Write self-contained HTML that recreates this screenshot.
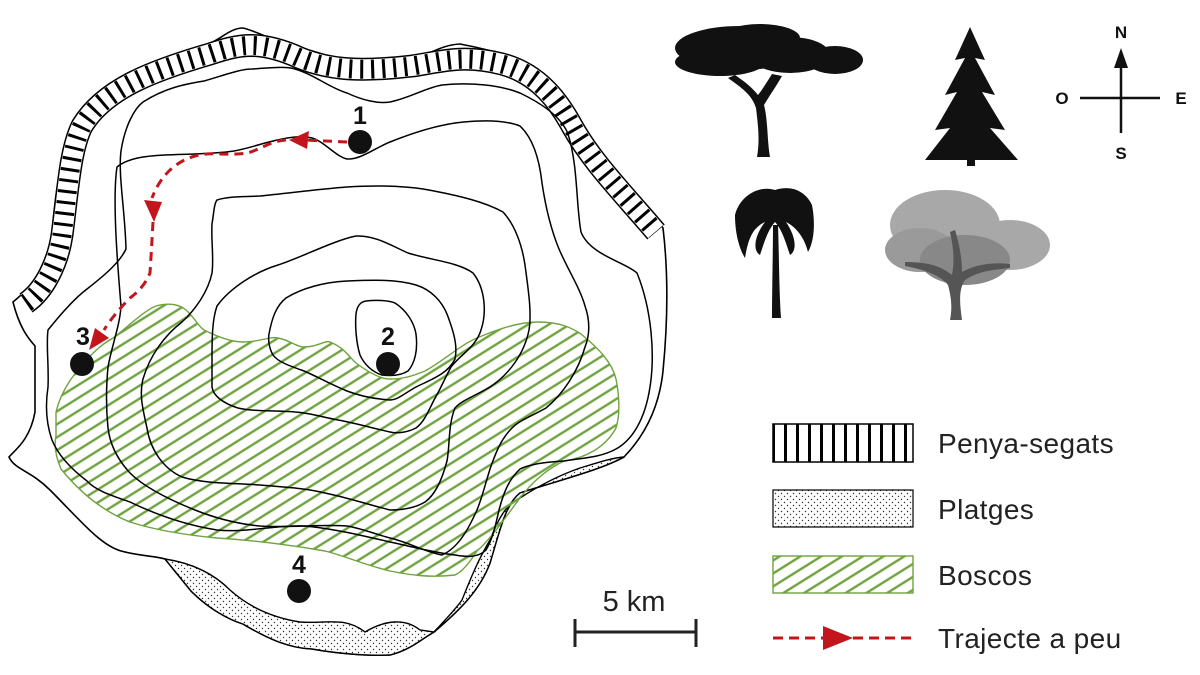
<!DOCTYPE html>
<html><head><meta charset="utf-8"><style>
html,body{margin:0;padding:0;background:#fff;}
svg{display:block;}
text{font-family:"Liberation Sans",Arial,sans-serif;}
</style></head><body>
<svg width="1200" height="675" viewBox="0 0 1200 675" xmlns="http://www.w3.org/2000/svg">
<defs>
<pattern id="hatch" width="11" height="11" patternUnits="userSpaceOnUse" patternTransform="rotate(-32)">
<line x1="0" y1="5" x2="11" y2="5" stroke="#6ea33f" stroke-width="2.4"/>
</pattern>
<pattern id="dots" width="6" height="6" patternUnits="userSpaceOnUse">
<rect width="6" height="6" fill="#fff"/>
<circle cx="1.5" cy="1.5" r="0.7" fill="#333"/>
<circle cx="4.5" cy="4.5" r="0.7" fill="#333"/>
</pattern>
<pattern id="vbars" width="12" height="40" patternUnits="userSpaceOnUse">
<rect width="12" height="40" fill="#fff"/>
<rect x="4" width="3" height="40" fill="#000"/>
</pattern>
</defs>

<path d="M13,302 C20,330 30,340 35,346 L35,412 C30,440 15,450 9,457 C15,470 30,470 50,490 C80,520 100,545 121,551 C140,556 155,556 165,559 L191,591 C210,610 230,620 243,624 C270,640 290,648 312,649 C340,654 370,656 390,655 C410,650 420,640 434,632 C460,610 480,590 490,563 C500,530 505,505 520,493 C560,480 600,470 624,457 C650,430 660,400 663,371 C668,320 668,270 663,228 C640,200 610,170 590,140 C575,115 560,80 520,61 C500,52 480,48 460,44 C440,45 430,55 416,57 C395,60 370,62 347,61 C330,58 320,52 304,49 C280,45 260,32 243,28 C230,28 220,40 208,44 C180,55 150,65 130,81 C100,100 80,120 69,142 C58,170 55,200 52,232 C48,260 40,280 13,302 Z" fill="#fff" stroke="#000" stroke-width="1.6"/>

<path d="M165,559 C185,562 210,570 230,590 C250,608 275,618 300,622 C325,624 345,616 365,632 C385,620 405,618 420,630 L434,632 C420,640 410,650 390,655 C370,656 340,654 312,649 C290,648 270,640 243,624 C230,620 210,610 191,591 Z" fill="url(#dots)" stroke="#000" stroke-width="1.4"/>
<path d="M434,632 C445,620 455,610 462,600 C470,580 478,560 490,540 C498,520 505,505 520,498 C540,485 560,475 580,468 C600,462 612,458 624,457 C600,470 560,480 520,493 C505,505 500,530 490,563 C480,590 460,610 434,632 Z" fill="url(#dots)" stroke="#000" stroke-width="1.4"/>

<g fill="none">
<path d="M26,303 C45,290 58,262 62,235 C68,190 70,150 82,126 C105,88 155,70 210,54 C240,44 260,40 300,58 C330,70 360,72 412,66 C440,62 462,54 502,64 C540,74 560,104 572,126 C592,162 622,192 656,232" stroke="#000" stroke-width="23"/>
<path d="M26,303 C45,290 58,262 62,235 C68,190 70,150 82,126 C105,88 155,70 210,54 C240,44 260,40 300,58 C330,70 360,72 412,66 C440,62 462,54 502,64 C540,74 560,104 572,126 C592,162 622,192 656,232" stroke="#fff" stroke-width="20"/>
<path d="M26,303 C45,290 58,262 62,235 C68,190 70,150 82,126 C105,88 155,70 210,54 C240,44 260,40 300,58 C330,70 360,72 412,66 C440,62 462,54 502,64 C540,74 560,104 572,126 C592,162 622,192 656,232" stroke="#000" stroke-width="19" stroke-dasharray="3 8"/>
</g>

<path d="M56,412 C60,395 68,383 74,375 C90,355 100,345 113,338 C130,325 145,310 156,306 C170,302 180,305 186,310 C195,318 198,326 204,330 C220,338 232,342 243,342 C260,342 270,336 278,338 C290,340 296,347 304,347 C318,347 325,340 330,342 C345,348 350,358 356,363 C368,372 380,379 390,379 C405,379 415,375 425,371 C445,360 460,345 477,338 C500,328 520,322 538,322 C560,322 572,328 581,334 C598,348 612,362 616,379 C620,400 620,415 616,428 C605,448 585,458 564,461 C545,470 530,485 520,498 C505,518 490,540 477,551 C470,562 462,572 455,575 C430,578 410,575 390,571 C365,565 345,556 325,551 C290,545 250,540 217,538 C185,535 155,530 130,522 C100,510 78,490 61,469 C55,455 54,445 56,436 Z" fill="url(#hatch)" stroke="#6ea33f" stroke-width="1.4"/>

<g fill="none" stroke="#000" stroke-width="1.5">
<path d="M48,330 C60,315 75,298 87,289 C105,275 120,262 126,249 C125,210 118,175 121,151 C125,125 135,108 143,102 C165,88 185,84 204,81 C225,75 240,69 252,69 C270,68 285,66 295,69 C315,75 330,88 347,93 C362,100 378,104 390,102 C410,98 425,88 442,85 C470,82 500,85 520,93 C545,105 562,118 568,134 C578,165 576,205 581,232 C590,255 625,262 637,273 C652,310 655,355 650,387 C645,420 632,440 616,449 C600,458 580,458 564,461 C545,462 530,464 520,469 C508,480 503,495 499,510 C495,528 492,540 486,550 C478,558 466,557 455,555 C430,552 410,546 390,542 C360,535 330,528 304,526 C275,525 245,533 217,530 C185,525 155,514 130,502 C110,495 95,490 87,481 C70,468 58,455 52,440 C45,420 46,400 48,387 C49,365 46,345 48,330 Z"/>
<path d="M121,306 C118,270 112,200 117,167 C128,158 145,156 165,155 C190,154 215,154 234,151 C250,148 260,144 269,142 C285,138 300,135 312,138 C325,142 335,156 347,159 C360,160 375,148 390,142 C415,132 440,124 464,122 C485,120 505,120 520,126 C535,140 540,165 542,183 C546,210 552,232 559,249 C568,270 580,288 585,306 C590,320 590,335 585,347 C578,372 562,395 546,408 C532,416 520,420 512,428 C500,440 495,455 490,469 C485,485 482,498 477,510 C468,530 458,548 442,555 C425,552 408,542 390,538 C375,534 360,528 347,526 C320,524 290,528 260,526 C238,524 215,518 195,510 C170,500 145,488 130,473 C118,460 110,445 108,428 C106,408 106,388 108,367 C112,345 120,325 121,306 Z"/>
<path d="M212,224 C214,212 214,204 217,200 C230,196 245,197 260,196 C290,193 320,189 347,187 C380,185 410,186 434,191 C460,196 485,202 503,212 C515,225 522,245 525,265 C528,288 532,312 529,330 C524,355 508,375 490,387 C475,396 462,400 455,408 C448,425 450,445 447,461 C442,480 435,495 425,502 C415,508 402,510 390,510 C370,505 345,497 325,493 C305,488 282,487 260,485 C235,483 205,484 182,477 C162,468 150,448 147,428 C143,410 139,395 143,379 C150,355 165,335 182,322 C195,310 208,292 212,273 C214,258 211,240 212,224 Z"/>
<path d="M212,359 C212,340 212,320 217,306 C230,288 255,272 278,265 C300,258 335,240 356,236 C375,235 392,246 408,253 C430,260 458,262 473,273 C485,288 487,312 481,330 C476,347 460,355 451,367 C444,380 440,390 434,400 C428,412 424,422 416,428 C408,432 398,434 390,432 C372,428 355,423 338,420 C322,417 310,413 295,412 C275,410 255,412 238,408 C222,403 213,395 212,387 Z"/>
<path d="M269,334 C272,318 276,306 286,298 C302,288 325,282 347,281 C372,280 396,279 416,285 C432,290 442,302 447,314 C453,330 458,345 455,359 C448,374 430,380 416,387 C405,393 398,400 390,400 C375,399 360,396 347,391 C330,384 318,377 304,371 C290,366 278,362 273,355 C269,348 268,340 269,334 Z"/>
<path d="M356,314 C357,306 360,302 366,301 C375,300 388,300 395,303 C406,310 414,322 416,334 C418,350 415,363 408,371 C400,376 390,376 382,375 C372,372 364,364 360,355 C356,342 355,325 356,314 Z"/>
</g>

<g fill="none" stroke="#c3161c" stroke-width="3" stroke-dasharray="9 6">
<path d="M347,142 L304,140"/>
<path d="M286,140 C270,141 260,150 247,153 C230,156 212,152 199,155 C185,158 175,165 169,171 C160,180 155,190 152,198"/>
<path d="M153,222 C152,240 151,258 150,273 C145,285 138,292 130,298 C120,308 110,320 104,330"/>
</g>
<g fill="#c3161c">
<polygon points="289,140 309,131 307,149"/>
<polygon points="154,222 144,200 162,202"/>
<polygon points="89,350 95,328 109,338"/>
</g>

<g fill="#111">
<circle cx="360" cy="142" r="12"/>
<circle cx="388" cy="364" r="12"/>
<circle cx="82" cy="364" r="12"/>
<circle cx="299" cy="591" r="12"/>
</g>
<g font-size="25" font-weight="bold" text-anchor="middle" fill="#111">
<text x="360" y="124">1</text>
<text x="388" y="345">2</text>
<text x="83" y="345">3</text>
<text x="299" y="573">4</text>
</g>

<text x="634" y="611" font-size="29" text-anchor="middle" fill="#222">5 km</text>
<g stroke="#222" stroke-width="3">
<line x1="574" y1="632" x2="697" y2="632"/>
<line x1="575" y1="619" x2="575" y2="647"/>
<line x1="696" y1="619" x2="696" y2="647"/>
</g>

<rect x="773" y="424" width="140" height="38" fill="url(#vbars)" stroke="#000" stroke-width="1.5"/>
<rect x="773" y="490" width="140" height="37" fill="url(#dots)" stroke="#000" stroke-width="1.2"/>
<rect x="773" y="556" width="140" height="37" fill="url(#hatch)" stroke="#6ea33f" stroke-width="1.4"/>
<line x1="773" y1="638" x2="913" y2="638" stroke="#c3161c" stroke-width="3" stroke-dasharray="10 6"/>
<polygon points="823,626 853,638 823,650" fill="#c3161c"/>
<g font-size="28" fill="#222" letter-spacing="0.4">
<text x="938" y="453">Penya-segats</text>
<text x="938" y="519">Platges</text>
<text x="938" y="585">Boscos</text>
<text x="938" y="648">Trajecte a peu</text>
</g>

<g stroke="#111" stroke-width="2.5">
<line x1="1080" y1="98" x2="1160" y2="98"/>
<line x1="1121" y1="65" x2="1121" y2="133"/>
</g>
<polygon points="1121,48 1114,68 1128,68" fill="#111"/>
<g font-size="17" font-weight="bold" text-anchor="middle" fill="#111">
<text x="1121" y="38">N</text>
<text x="1062" y="104">O</text>
<text x="1181" y="104">E</text>
<text x="1121" y="159">S</text>
</g>

<g fill="#111">
<ellipse cx="740" cy="48" rx="65" ry="22"/>
<ellipse cx="720" cy="62" rx="45" ry="14"/>
<ellipse cx="790" cy="55" rx="40" ry="18"/>
<ellipse cx="835" cy="60" rx="28" ry="14"/>
<ellipse cx="760" cy="38" rx="40" ry="14"/>
<path d="M757,157 L770,157 C767,140 768,120 764,105 C770,95 777,85 782,76 L772,74 C765,85 762,90 758,95 C750,85 742,80 735,75 L728,78 C742,88 752,95 756,108 C758,125 760,140 757,157 Z"/>
</g>
<g fill="#111">
<polygon points="970,27 985,60 975,58 995,95 982,92 1005,130 990,128 1018,160 925,160 950,128 935,130 957,92 945,95 965,58 955,60"/>
<rect x="967" y="158" width="8" height="8"/>
</g>
<g fill="#111">
<path d="M772,318 L781,318 C779,290 779,250 778,225 L773,225 C773,250 772,290 772,318 Z"/>
<path d="M775,190 C760,185 740,195 735,215 C735,235 740,250 745,258 C748,240 752,228 765,222 C755,235 752,250 760,255 C765,240 768,230 775,222 C782,230 785,240 790,255 C798,250 795,235 786,222 C798,228 805,240 808,252 C815,240 815,220 812,205 C805,190 790,185 775,190 Z"/>
</g>
<g>
<ellipse cx="945" cy="225" rx="55" ry="35" fill="#a8a8a8"/>
<ellipse cx="1010" cy="245" rx="40" ry="25" fill="#a8a8a8"/>
<ellipse cx="920" cy="250" rx="35" ry="22" fill="#9a9a9a"/>
<ellipse cx="965" cy="260" rx="45" ry="25" fill="#888"/>
<path d="M950,320 L962,320 C960,305 958,290 965,280 C980,270 995,270 1010,268 L1010,264 C990,262 975,265 962,272 C962,255 958,240 955,230 L950,232 C953,245 955,260 952,275 C940,265 925,262 905,262 L905,266 C925,270 940,275 948,285 C952,300 952,310 950,320 Z" fill="#555"/>
</g>
</svg>
</body></html>
